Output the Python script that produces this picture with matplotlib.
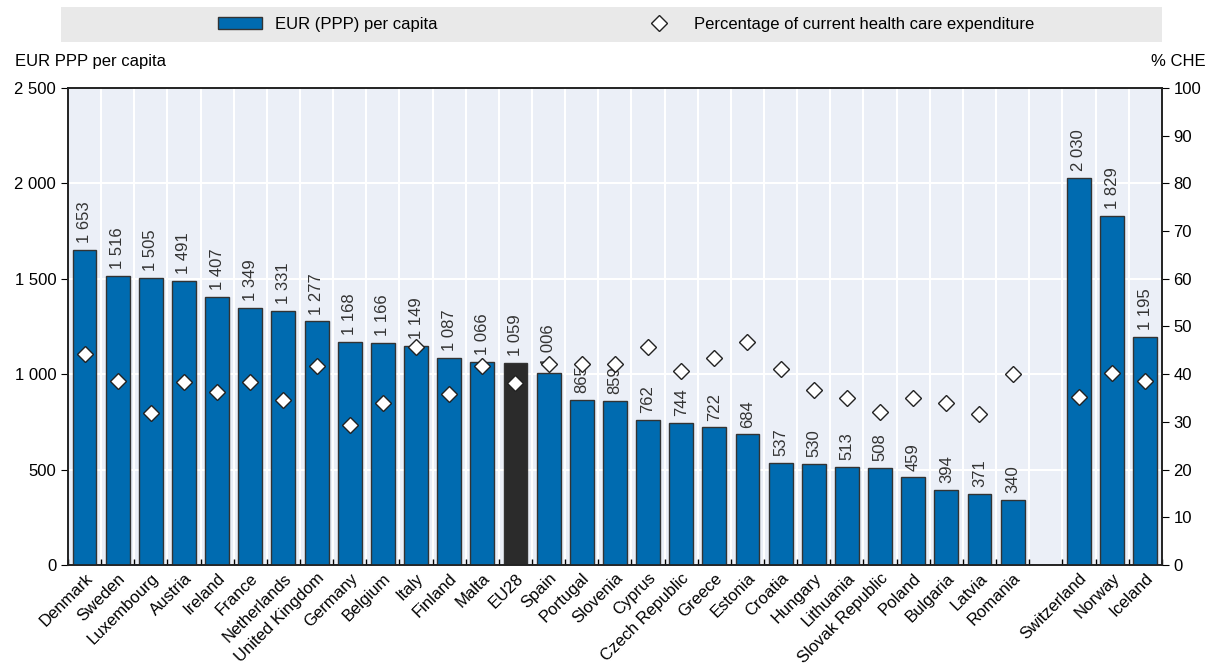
import matplotlib.pyplot as plt
from matplotlib.patches import Rectangle
from matplotlib.lines import Line2D
import numpy as np

plt.rcParams['font.family'] = ['Liberation Sans Narrow', 'Liberation Sans', 'DejaVu Sans']

countries = ['Denmark', 'Sweden', 'Luxembourg', 'Austria', 'Ireland', 'France',
             'Netherlands', 'United Kingdom', 'Germany', 'Belgium', 'Italy',
             'Finland', 'Malta', 'EU28', 'Spain', 'Portugal', 'Slovenia', 'Cyprus',
             'Czech Republic', 'Greece', 'Estonia', 'Croatia', 'Hungary',
             'Lithuania', 'Slovak Republic', 'Poland', 'Bulgaria', 'Latvia',
             'Romania', '', 'Switzerland', 'Norway', 'Iceland']
eur_ppp = [1653, 1516, 1505, 1491, 1407, 1349, 1331, 1277, 1168, 1166, 1149,
           1087, 1066, 1059, 1006, 865, 859, 762, 744, 722, 684, 537, 530,
           513, 508, 459, 394, 371, 340, None, 2030, 1829, 1195]
pct_che = [44.2, 38.6, 31.9, 38.4, 36.3, 38.4, 34.6, 41.7, 29.4, 34.0, 45.7,
           35.8, 41.7, 38.2, 42.1, 42.1, 42.1, 45.7, 40.7, 43.4, 46.8, 41.1,
           36.7, 35.0, 32.1, 35.0, 34.0, 31.7, 40.0, None, 35.2, 40.3, 38.6]

blue = '#006BB0'
dark = '#2B2B2B'
bg = '#EBEFF7'

fig = plt.figure(figsize=(12.14, 6.67), dpi=100)
ax = fig.add_axes([0.056, 0.153, 0.901, 0.715])
ax2 = ax.twinx()
ax.set_zorder(ax2.get_zorder() - 1)
ax2.patch.set_visible(False)
ax.set_facecolor(bg)

x = np.arange(len(countries))
for i, (c, v) in enumerate(zip(countries, eur_ppp)):
    if v is None:
        continue
    ax.bar(i, v, width=0.72, color=dark if c == 'EU28' else blue,
           edgecolor='#333333', linewidth=1, zorder=3)
    ax.text(i, v + 35, f'{v:,}'.replace(',', ' '), rotation=90, ha='center',
            va='bottom', fontsize=12, color='#333333', zorder=4)

for i, p in enumerate(pct_che):
    if p is None:
        continue
    ax2.plot(i, p, marker='D', markersize=8, markerfacecolor='white',
             markeredgecolor='#222222', markeredgewidth=1, linestyle='none', zorder=5)

ax.set_xlim(-0.5, len(countries) - 0.5)
ax.set_ylim(0, 2500)
ax.set_yticks(range(0, 2501, 500))
ax.set_yticklabels([f'{t:,}'.replace(',', ' ') for t in range(0, 2501, 500)], fontsize=12)
ax2.set_ylim(0, 100)
ax2.set_yticks(range(0, 101, 10))
ax2.tick_params(axis='y', labelsize=12, length=5, direction='out')
ax.tick_params(axis='y', length=5, direction='out')

ax.set_xticks(x)
ax.set_xticklabels(countries, rotation=45, ha='right', rotation_mode='anchor', fontsize=12)
ax.tick_params(axis='x', length=0, pad=4)
bounds = np.arange(-0.5, len(countries), 1.0)
ax.set_xticks(bounds, minor=True)
ax.tick_params(axis='x', which='minor', length=4, direction='in', width=1)

ax.grid(False)
for b in bounds[1:-1]:
    ax.axvline(b, color='white', linewidth=1.5, zorder=1)
for t in range(500, 2500, 500):
    ax.axhline(t, color='white', linewidth=1.5, zorder=1)

for a in (ax, ax2):
    for s in a.spines.values():
        s.set_color('#222222')
        s.set_linewidth(1.2)

fig.text(0.012, 0.908, 'EUR PPP per capita', fontsize=12, ha='left', va='center')
fig.text(0.993, 0.908, '% CHE', fontsize=12, ha='right', va='center')

fig.patches.append(Rectangle((0.05, 0.937), 0.907, 0.053, transform=fig.transFigure,
                             facecolor='#E9E9E9', edgecolor='none', zorder=0))
handles = [Rectangle((0, 0), 1, 1, facecolor=blue, edgecolor='#333333'),
           Line2D([], [], marker='D', markersize=8, markerfacecolor='white',
                  markeredgecolor='#222222', linestyle='none')]
fig.legend(handles, ['EUR (PPP) per capita', 'Percentage of current health care expenditure'],
           loc='center', bbox_to_anchor=(0.516, 0.9635), ncol=2, frameon=False,
           fontsize=12, columnspacing=12, handlelength=2.6)

fig.savefig('out.png', dpi=100)
